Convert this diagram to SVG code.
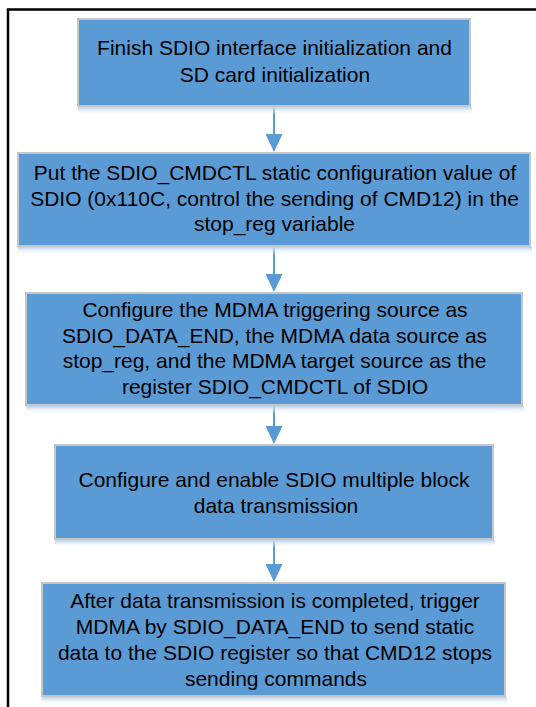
<svg xmlns="http://www.w3.org/2000/svg" width="536" height="707" viewBox="0 0 536 707">
<defs>
<linearGradient id="sh" x1="0" y1="0" x2="0" y2="1">
<stop offset="0" stop-color="#b9d1ec"/>
<stop offset="1" stop-color="#ffffff" stop-opacity="0"/>
</linearGradient>
</defs>
<style>
.box{fill:#5b9bd5;stroke:#c6c6c6;stroke-width:2}
.shadow{fill:url(#sh)}
.t{font-family:"Liberation Sans",Arial,sans-serif;font-size:21px;fill:#000;text-anchor:middle}
.conn{stroke:#5b9bd5;stroke-width:2;fill:none}
.head{fill:#5b9bd5}
</style>
<rect width="536" height="707" fill="#fff"/>
<path d="M8,707 V9.5 H536" fill="none" stroke="#000" stroke-width="2.5"/>
<g id="connectors">
<line class="conn" x1="274" y1="107" x2="274" y2="134"/>
<path class="head" d="M265.5,134 L282.5,134 L274,152 Z"/>
<line class="conn" x1="274" y1="247" x2="274" y2="274"/>
<path class="head" d="M265.5,274 L282.5,274 L274,292 Z"/>
<line class="conn" x1="274" y1="406" x2="274" y2="426"/>
<path class="head" d="M265.5,426 L282.5,426 L274,444 Z"/>
<line class="conn" x1="274" y1="540" x2="274" y2="564"/>
<path class="head" d="M265.5,564 L282.5,564 L274,582 Z"/>
</g>
<g id="node1">
<rect class="shadow" x="78" y="107" width="394" height="8"/>
<rect class="box" x="78" y="19" width="392" height="87"/>
<text class="t" x="274.5" y="55">Finish SDIO interface initialization and</text>
<text class="t" x="275" y="82">SD card initialization</text>
</g>
<g id="node2">
<rect class="shadow" x="18" y="247" width="514" height="8"/>
<rect class="box" x="18" y="153" width="512" height="93"/>
<text class="t" x="275" y="180">Put the SDIO_CMDCTL static configuration value of</text>
<text class="t" x="274.5" y="205.5">SDIO (0x110C, control the sending of CMD12) in the</text>
<text class="t" x="274.5" y="231">stop_reg variable</text>
</g>
<g id="node3">
<rect class="shadow" x="26" y="406" width="498" height="8"/>
<rect class="box" x="26" y="293" width="496" height="112"/>
<text class="t" x="275" y="316.5">Configure the MDMA triggering source as</text>
<text class="t" x="274.5" y="342.5">SDIO_DATA_END, the MDMA data source as</text>
<text class="t" x="274.5" y="368">stop_reg, and the MDMA target source as the</text>
<text class="t" x="275" y="394">register SDIO_CMDCTL of SDIO</text>
</g>
<g id="node4">
<rect class="shadow" x="55" y="540" width="440" height="8"/>
<rect class="box" x="55" y="445" width="438" height="94"/>
<text class="t" x="274" y="486.5">Configure and enable SDIO multiple block</text>
<text class="t" x="276" y="513">data transmission</text>
</g>
<g id="node5">
<rect class="shadow" x="42" y="697" width="465" height="8"/>
<rect class="box" x="42" y="583" width="463" height="113"/>
<text class="t" x="275" y="607.5">After data transmission is completed, trigger</text>
<text class="t" x="275" y="633.5">MDMA by SDIO_DATA_END to send static</text>
<text class="t" x="275" y="659.5">data to the SDIO register so that CMD12 stops</text>
<text class="t" x="276" y="685.5">sending commands</text>
</g>
</svg>
